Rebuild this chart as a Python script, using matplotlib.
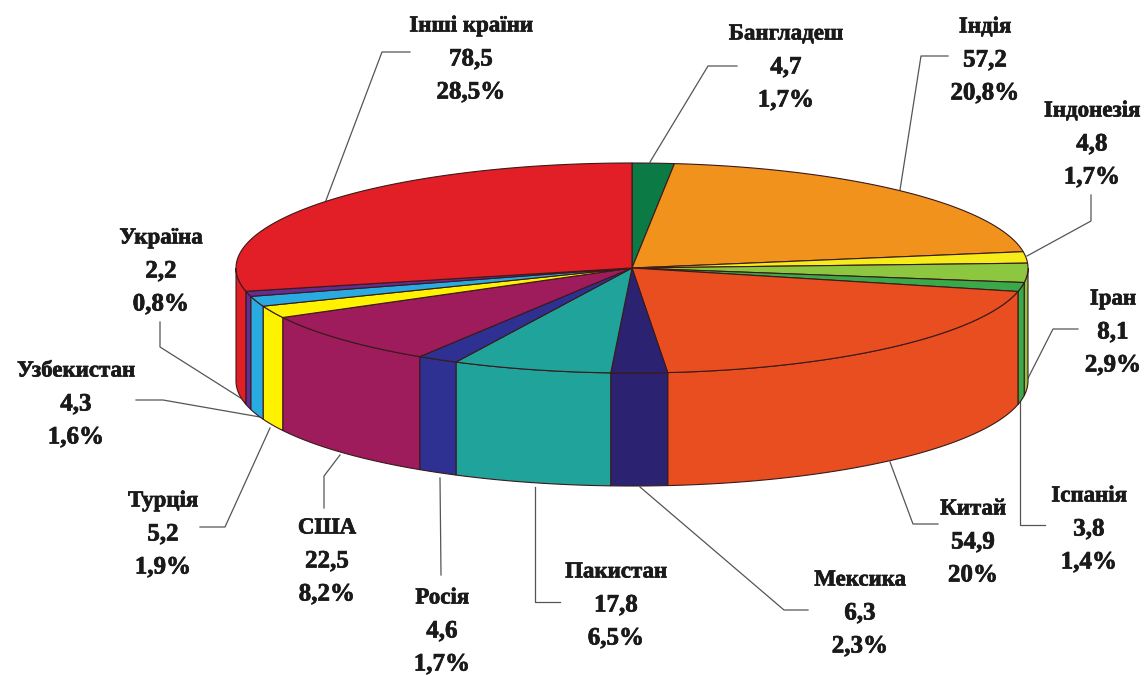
# -*- coding: utf-8 -*-
import numpy as np
import matplotlib
matplotlib.use('Agg')
import matplotlib.pyplot as plt
import matplotlib.patheffects as pe

# data, clockwise from the top of the pie
names = ['Бангладеш', 'Індія', 'Індонезія', 'Іран', 'Іспанія', 'Китай', 'Мексика',
         'Пакистан', 'Росія', 'США', 'Турція', 'Узбекистан', 'Україна', 'Інші країни']
values = [4.7, 57.2, 4.8, 8.1, 3.8, 54.9, 6.3, 17.8, 4.6, 22.5, 5.2, 4.3, 2.2, 78.5]
percents = ['1,7%', '20,8%', '1,7%', '2,9%', '1,4%', '20%', '2,3%',
            '6,5%', '1,7%', '8,2%', '1,9%', '1,6%', '0,8%', '28,5%']

colors = ['#0b7a45', '#f1921d', '#f5ec1a', '#8dc63f', '#39a949', '#e84e1f', '#2c2272',
          '#1fa39a', '#2e3192', '#9e1b5c', '#fff200', '#29abe2', '#662d91', '#e21e26']

# layout, in picture pixels
cx, cy = 632, 268
rx, ry = 396, 105
depth = 113
edge = '#3a1a1a'

# centre of the name row of each label
label_pos = [(786, 34), (985, 27), (1092, 111), (1113, 299), (1089, 496), (973, 509), (860, 580),
             (616, 572), (442, 598), (327, 528), (163, 501), (76, 371), (161, 238), (471, 26)]
row_step = 33

leaders = [
    [(737, 66), (708, 66), (650, 162)],
    [(948, 56), (921, 56), (900, 190)],
    [(1091, 195), (1091, 221), (1027, 256)],
    [(1078, 329), (1053, 329), (1023, 388)],
    [(1020, 395), (1020, 525), (1045, 525)],
    [(890, 462), (913, 524), (938, 524)],
    [(640, 487), (784, 610), (808, 610)],
    [(535, 487), (535, 602), (560, 602)],
    [(440, 478), (441, 575)],
    [(340, 455), (324, 476), (324, 508)],
    [(270, 428), (225, 527), (200, 527)],
    [(260, 417), (163, 400), (136, 400)],
    [(247, 402), (160, 347), (160, 322)],
    [(410, 52), (382, 52), (325, 203)],
]


def rim(t):
    return cx + rx * np.sin(t), cy - ry * np.cos(t)


fig = plt.figure(figsize=(11.45, 6.75), dpi=100)
ax = fig.add_axes([0, 0, 1, 1])
ax.set_xlim(0, 1145)
ax.set_ylim(675, 0)
ax.axis('off')

bounds = 2 * np.pi * np.concatenate([[0], np.cumsum(values)]) / np.sum(values)

# outer wall, only the front half can be seen
for i in range(len(values)):
    t0 = max(bounds[i], np.pi / 2)
    t1 = min(bounds[i + 1], 3 * np.pi / 2)
    if t1 <= t0:
        continue
    t = np.linspace(t0, t1, 80)
    x, y = rim(t)
    xs = np.concatenate([x, x[::-1]])
    ys = np.concatenate([y, y[::-1] + depth])
    ax.fill(xs, ys, facecolor=colors[i], edgecolor=edge, linewidth=0.8, zorder=2)

# top face
for i in range(len(values)):
    t = np.linspace(bounds[i], bounds[i + 1], 120)
    x, y = rim(t)
    xs = np.concatenate([[cx], x])
    ys = np.concatenate([[cy], y])
    ax.fill(xs, ys, facecolor=colors[i], edgecolor=edge, linewidth=0.8, zorder=3)

# leader lines
for pts in leaders:
    ax.plot([p[0] for p in pts], [p[1] for p in pts], color='#555555', linewidth=0.9, zorder=1)

# labels, the scan makes them look a bit heavier so add a thin stroke
heavy = [pe.withStroke(linewidth=0.5, foreground='#1a1a1a')]
for i in range(len(names)):
    x, y = label_pos[i]
    rows = [names[i], ('%.1f' % values[i]).replace('.', ','), percents[i]]
    for j in range(3):
        size = 16.5 if j == 0 else 18
        ax.text(x, y + j * row_step, rows[j], ha='center', va='center', color='#1a1a1a',
                family='Liberation Serif', weight='bold', fontsize=size, zorder=4,
                path_effects=heavy)

plt.savefig('out.png', dpi=100)
plt.close()
